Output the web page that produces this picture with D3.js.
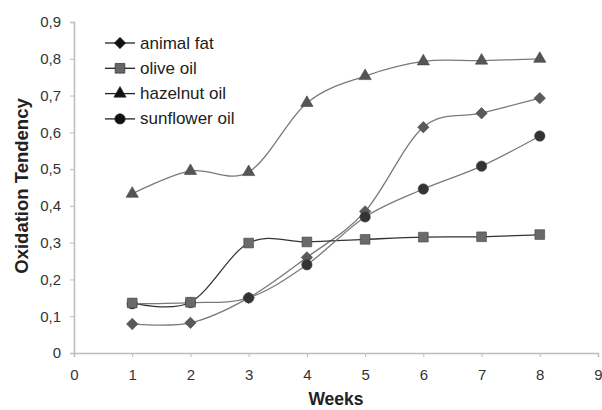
<!DOCTYPE html>
<html><head><meta charset="utf-8">
<script src="https://cdn.jsdelivr.net/npm/d3@7"></script>
<style>body{margin:0;background:#fff}svg{display:block}</style>
</head><body>
<svg id="c" width="602" height="410"></svg>
<script>
const weeks = [1,2,3,4,5,6,7,8];
const animalFat = [0.079,0.082,0.15,0.26,0.385,0.614,0.652,0.693];
const oliveOil = [0.136,0.138,0.299,0.302,0.309,0.315,0.316,0.322];
const hazelnutOil = [0.433,0.495,0.492,0.68,0.753,0.793,0.795,0.800];
const sunflowerOil = [0.134,0.137,0.15,0.24,0.37,0.446,0.508,0.59];
const seriesNames = ["animal fat","olive oil","hazelnut oil","sunflower oil"];
const xTicks = [0,1,2,3,4,5,6,7,8,9];
const yTicks = [0,0.1,0.2,0.3,0.4,0.5,0.6,0.7,0.8,0.9];

const diamond = {draw(ctx,size){const r=Math.sqrt(size)/2;ctx.moveTo(0,-r);ctx.lineTo(r,0);ctx.lineTo(0,r);ctx.lineTo(-r,0);ctx.closePath();}};

const series = [
  {name:seriesNames[0], values:animalFat, sym:diamond, size:130, fill:"#5a5a5a", line:"#7a7a7a", z:0},
  {name:seriesNames[1], values:oliveOil, sym:d3.symbolSquare, size:95, fill:"#6a6a6a", line:"#333", z:2},
  {name:seriesNames[2], values:hazelnutOil, sym:d3.symbolTriangle, size:65, fill:"#555", line:"#7a7a7a", z:3},
  {name:seriesNames[3], values:sunflowerOil, sym:d3.symbolCircle, size:85, fill:"#333", line:"#7a7a7a", z:1}
];

const svg = d3.select("#c");
const x = d3.scaleLinear().domain([0,9]).range([74,598]);
const y = d3.scaleLinear().domain([0,0.9]).range([353,22]);
const fmt = d => d3.format(".1f")(d).replace(".",",");

const axisCol = "#bdbdbd";
const font = "Liberation Sans, Arial, sans-serif";

const gx = svg.append("g").attr("transform","translate(0,353)")
  .call(d3.axisBottom(x).tickValues(xTicks).tickSize(4).tickPadding(12).tickFormat(d=>d));
const gy = svg.append("g").attr("transform","translate(74,0)")
  .call(d3.axisLeft(y).tickValues(yTicks).tickSize(4).tickPadding(9).tickFormat(d=> d===0?"0":fmt(d)));
[gx,gy].forEach(g=>{
  g.select(".domain").attr("stroke",axisCol).attr("stroke-width",1.5);
  g.selectAll(".tick line").attr("stroke",axisCol);
  g.selectAll(".tick text").attr("fill","#333").style("font-family",font).style("font-size","15px");
});

svg.append("text").attr("x",336).attr("y",405).attr("text-anchor","middle")
  .style("font-family",font).style("font-weight","bold").style("font-size","17.5px").attr("fill","#222").text("Weeks");
svg.append("text").attr("transform","translate(28,186) rotate(-90)").attr("text-anchor","middle")
  .style("font-family",font).style("font-weight","bold").style("font-size","18.5px").attr("fill","#222").text("Oxidation Tendency");

const line = d3.line().x((d,i)=>x(weeks[i])).y(d=>y(d)).curve(d3.curveCardinal.tension(0));
series.forEach(s=>{
  svg.append("path").datum(s.values).attr("d",line).attr("fill","none")
    .attr("stroke",s.line).attr("stroke-width",1.3);
});
series.slice().sort((a,b)=>a.z-b.z).forEach(s=>{
  svg.append("g").selectAll("path").data(s.values).join("path")
    .attr("d",d3.symbol().type(s.sym).size(s.size))
    .attr("transform",(d,i)=>`translate(${x(weeks[i])},${y(d)})`)
    .attr("fill",s.fill).attr("stroke","#444").attr("stroke-width",0.6);
});

const leg = svg.append("g");
series.forEach((s,i)=>{
  const yy = 43 + i*25.3;
  leg.append("line").attr("x1",105).attr("x2",135).attr("y1",yy).attr("y2",yy).attr("stroke","#222").attr("stroke-width",1.3);
  leg.append("path").attr("d",d3.symbol().type(s.sym).size(s.size)).attr("transform",`translate(120,${yy})`)
    .attr("fill",i===1?"#666":"#111").attr("stroke","#222").attr("stroke-width",0.6);
  leg.append("text").attr("x",140).attr("y",yy+5.5).style("font-family",font).style("font-size","17px")
    .attr("fill","#222").text(s.name);
});
</script>
</body></html>
